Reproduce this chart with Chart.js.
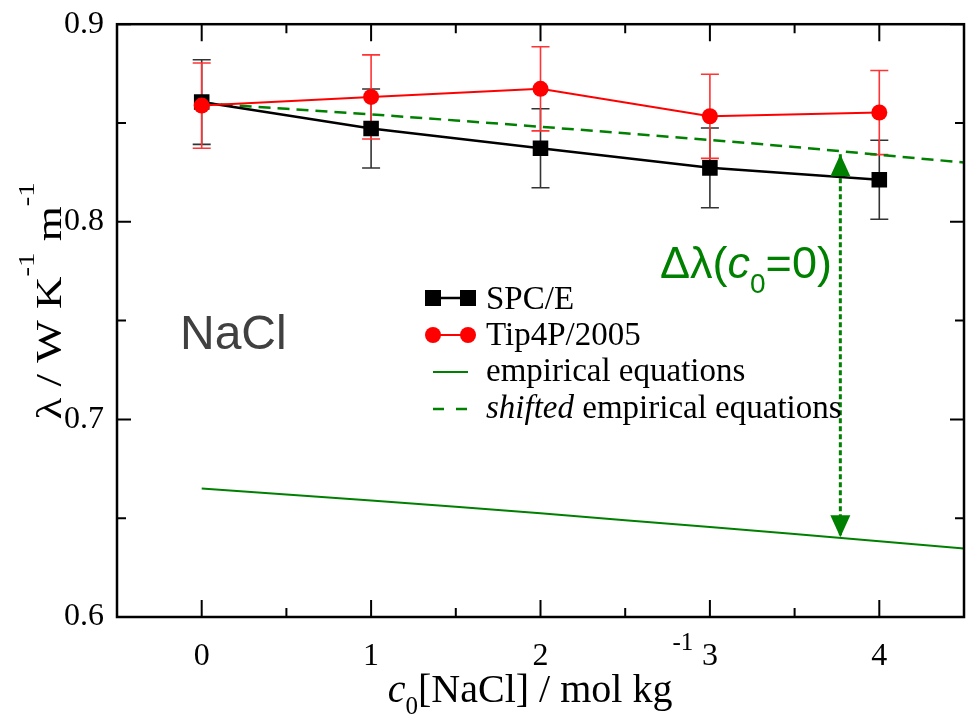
<!DOCTYPE html>
<html lang="en">
<head>
  <meta charset="UTF-8">
  <title>NaCl thermal conductivity</title>
  <script src="https://cdn.jsdelivr.net/npm/chart.js"></script>
  <style>
    html, body { margin: 0; padding: 0; background: #ffffff; }
    .chart-box { position: relative; width: 975px; height: 716px; }
  </style>
</head>
<body>
  <div class="chart-box">
    <canvas id="naclChart" width="975" height="716"></canvas>
  </div>

  <script>
    // values
    const concentrations = [0, 1, 2, 3, 4];
    const spceValues = [0.8606, 0.8472, 0.8372, 0.8273, 0.8213];
    const spceErrors = [0.0214, 0.0200, 0.0200, 0.0202, 0.0200];
    const tip4pValues = [0.8588, 0.8632, 0.8673, 0.8534, 0.8553];
    const tip4pErrors = [0.0216, 0.0213, 0.0213, 0.0213, 0.0213];

    const empiricalC = [0, 0.5, 1, 1.5, 2, 2.5, 3, 3.5, 4, 4.5];
    const empiricalValues = [0.6650, 0.6620, 0.6590, 0.6558, 0.6525, 0.6490, 0.6455, 0.6420, 0.6383, 0.6347];
    const shiftedValues = [0.8600, 0.8572, 0.8544, 0.8513, 0.8481, 0.8448, 0.8414, 0.8379, 0.8339, 0.8300];

    const arrowC = [3.77, 3.77];
    const arrowValues = [0.8342, 0.6404];

    const xTicks = [0, 1, 2, 3, 4];
    const yTicks = [0.6, 0.7, 0.8, 0.9];

    const GREEN = '#008000';
    const SERIF = '"Liberation Serif", "DejaVu Serif", serif';
    const SANS = '"Liberation Sans", Arial, sans-serif';

    function pts(xs, ys) {
      return xs.map((x, i) => ({ x: x, y: ys[i] }));
    }

    // text made of runs with different fonts / vertical offsets
    function drawRuns(ctx, x, y, runs, align) {
      let total = 0;
      runs.forEach(r => { ctx.font = r.font; total += ctx.measureText(r.text).width; });
      let cx = align === 'center' ? x - total / 2 : x;
      ctx.textAlign = 'left';
      ctx.textBaseline = 'alphabetic';
      runs.forEach(r => {
        ctx.font = r.font;
        ctx.fillText(r.text, cx, y + (r.dy || 0));
        cx += ctx.measureText(r.text).width;
      });
    }

    const errorBars = {
      id: 'errorBars',
      beforeDatasetsDraw(chart) {
        const ctx = chart.ctx;
        const xs = chart.scales.x, ys = chart.scales.y;
        const sets = [
          { vals: spceValues, errs: spceErrors, color: '#333333' },
          { vals: tip4pValues, errs: tip4pErrors, color: '#ff3333' }
        ];
        ctx.save();
        ctx.lineWidth = 1.6;
        sets.forEach(s => {
          ctx.strokeStyle = s.color;
          concentrations.forEach((c, i) => {
            const px = xs.getPixelForValue(c);
            const top = ys.getPixelForValue(s.vals[i] + s.errs[i]);
            const bot = ys.getPixelForValue(s.vals[i] - s.errs[i]);
            ctx.beginPath();
            ctx.moveTo(px, top); ctx.lineTo(px, bot);
            ctx.moveTo(px - 9, top); ctx.lineTo(px + 9, top);
            ctx.moveTo(px - 9, bot); ctx.lineTo(px + 9, bot);
            ctx.stroke();
          });
        });
        ctx.restore();
      }
    };

    const decorations = {
      id: 'decorations',
      afterDraw(chart) {
        const ctx = chart.ctx;
        const a = chart.chartArea;
        const xs = chart.scales.x, ys = chart.scales.y;
        ctx.save();

        // arrow heads
        ctx.fillStyle = GREEN;
        const ax = xs.getPixelForValue(arrowC[0]);
        const aTop = ys.getPixelForValue(arrowValues[0]);
        const aBot = ys.getPixelForValue(arrowValues[1]);
        ctx.beginPath();
        ctx.moveTo(ax, aTop); ctx.lineTo(ax - 10, aTop + 22); ctx.lineTo(ax + 10, aTop + 22);
        ctx.closePath(); ctx.fill();
        ctx.beginPath();
        ctx.moveTo(ax, aBot); ctx.lineTo(ax - 10, aBot - 22); ctx.lineTo(ax + 10, aBot - 22);
        ctx.closePath(); ctx.fill();

        // frame
        ctx.strokeStyle = '#000';
        ctx.lineWidth = 2.5;
        ctx.strokeRect(a.left, a.top, a.right - a.left, a.bottom - a.top);

        // inward ticks on all sides
        ctx.lineWidth = 2;
        ctx.beginPath();
        for (let v = -0.5; v <= 4.5001; v += 0.5) {
          const px = xs.getPixelForValue(v);
          const len = Math.abs(v - Math.round(v)) < 0.01 ? 17 : 9;
          ctx.moveTo(px, a.bottom); ctx.lineTo(px, a.bottom - len);
          ctx.moveTo(px, a.top); ctx.lineTo(px, a.top + len);
        }
        for (let v = 0.6; v <= 0.9001; v += 0.05) {
          const py = ys.getPixelForValue(v);
          const major = Math.abs(v * 10 - Math.round(v * 10)) < 0.01;
          const len = major ? 14 : 9;
          ctx.moveTo(a.left, py); ctx.lineTo(a.left + len, py);
          ctx.moveTo(a.right, py); ctx.lineTo(a.right - len, py);
        }
        ctx.stroke();

        // legend
        const lx1 = 433, lx2 = 468, tx = 486;
        const rows = [298, 335, 372, 409];
        ctx.lineWidth = 2.5;
        ctx.strokeStyle = '#000'; ctx.fillStyle = '#000';
        ctx.beginPath(); ctx.moveTo(lx1, rows[0]); ctx.lineTo(lx2, rows[0]); ctx.stroke();
        ctx.fillRect(lx1 - 8, rows[0] - 8, 16, 16);
        ctx.fillRect(lx2 - 8, rows[0] - 8, 16, 16);
        ctx.strokeStyle = '#ff0000'; ctx.fillStyle = '#ff0000';
        ctx.lineWidth = 2;
        ctx.beginPath(); ctx.moveTo(lx1, rows[1]); ctx.lineTo(lx2, rows[1]); ctx.stroke();
        ctx.beginPath(); ctx.arc(lx1, rows[1], 8, 0, Math.PI * 2); ctx.fill();
        ctx.beginPath(); ctx.arc(lx2, rows[1], 8, 0, Math.PI * 2); ctx.fill();
        ctx.strokeStyle = GREEN;
        ctx.beginPath(); ctx.moveTo(lx1, rows[2]); ctx.lineTo(lx2, rows[2]); ctx.stroke();
        ctx.lineWidth = 2.5;
        ctx.setLineDash([11, 12]);
        ctx.beginPath(); ctx.moveTo(lx1, rows[3]); ctx.lineTo(lx2, rows[3]); ctx.stroke();
        ctx.setLineDash([]);

        ctx.fillStyle = '#000';
        const lf = '33px ' + SERIF;
        drawRuns(ctx, tx, rows[0] + 11, [{ text: 'SPC/E', font: lf }]);
        drawRuns(ctx, tx, rows[1] + 10, [{ text: 'Tip4P/2005', font: lf }]);
        drawRuns(ctx, tx, rows[2] + 9, [{ text: 'empirical equations', font: lf }]);
        drawRuns(ctx, tx, rows[3] + 9, [{ text: 'shifted', font: 'italic 33px ' + SERIF }, { text: ' empirical equations', font: lf }]);

        // annotations
        ctx.fillStyle = '#404040';
        drawRuns(ctx, 180, 349, [{ text: 'NaCl', font: '48px ' + SANS }]);
        ctx.fillStyle = GREEN;
        drawRuns(ctx, 660, 278, [
          { text: 'Δλ(', font: '45px ' + SANS },
          { text: 'c', font: 'italic 45px ' + SANS },
          { text: '0', font: '28px ' + SANS, dy: 15 },
          { text: '=0)', font: '45px ' + SANS }
        ]);

        // axis titles
        ctx.fillStyle = '#000';
        drawRuns(ctx, (a.left + a.right) / 2, 702, [
          { text: 'c', font: 'italic 40px ' + SERIF },
          { text: '0', font: '25px ' + SERIF, dy: 12 },
          { text: '[NaCl] / mol kg', font: '40px ' + SERIF },
          { text: '-1', font: '25px ' + SERIF, dy: -52 }
        ], 'center');
        ctx.translate(61, 301);
        ctx.rotate(-Math.PI / 2);
        ctx.scale(1.25, 1);
        const tf = '36px ' + SERIF, sf = '23px ' + SERIF;
        drawRuns(ctx, 0, 0, [
          { text: 'λ / W K', font: tf },
          { text: '-1', font: sf, dy: -27 },
          { text: ' m', font: tf },
          { text: '-1', font: sf, dy: -27 }
        ], 'center');

        ctx.restore();
      }
    };

    const ctx = document.getElementById('naclChart').getContext('2d');
    new Chart(ctx, {
      type: 'line',
      data: {
        datasets: [
          {
            label: 'arrow',
            data: pts(arrowC, arrowValues),
            borderColor: GREEN,
            borderWidth: 3,
            borderDash: [5, 3],
            pointRadius: 0,
            order: 5
          },
          {
            label: 'empirical equations',
            data: pts(empiricalC, empiricalValues),
            borderColor: GREEN,
            borderWidth: 2,
            pointRadius: 0,
            order: 4
          },
          {
            label: 'shifted empirical equations',
            data: pts(empiricalC, shiftedValues),
            borderColor: GREEN,
            borderWidth: 2.5,
            borderDash: [12, 7],
            pointRadius: 0,
            order: 3
          },
          {
            label: 'SPC/E',
            data: pts(concentrations, spceValues),
            borderColor: '#000000',
            backgroundColor: '#000000',
            borderWidth: 2.5,
            pointStyle: 'rect',
            pointRadius: 11,
            pointBorderWidth: 0,
            order: 2
          },
          {
            label: 'Tip4P/2005',
            data: pts(concentrations, tip4pValues),
            borderColor: '#ff0000',
            backgroundColor: '#ff0000',
            borderWidth: 2,
            pointStyle: 'circle',
            pointRadius: 8,
            pointBorderWidth: 0,
            order: 1
          }
        ]
      },
      options: {
        responsive: false,
        animation: false,
        events: [],
        layout: { padding: { top: 10, right: 8, left: 0, bottom: 0 } },
        plugins: {
          legend: { display: false },
          tooltip: { enabled: false }
        },
        scales: {
          x: {
            type: 'linear',
            min: -0.5,
            max: 4.5,
            grid: { display: false },
            border: { display: false },
            afterBuildTicks: s => { s.ticks = xTicks.map(v => ({ value: v })); },
            afterFit: s => { s.height = 99; },
            ticks: {
              color: '#000',
              padding: 12,
              font: { family: SERIF, size: 32 },
              callback: v => String(v)
            }
          },
          y: {
            min: 0.6,
            max: 0.9,
            grid: { display: false },
            border: { display: false },
            afterBuildTicks: s => { s.ticks = yTicks.map(v => ({ value: v })); },
            afterFit: s => { s.width = 117; },
            ticks: {
              color: '#000',
              padding: 5,
              font: { family: SERIF, size: 32 },
              callback: v => v.toFixed(1)
            }
          }
        }
      },
      plugins: [errorBars, decorations]
    });
  </script>
</body>
</html>
